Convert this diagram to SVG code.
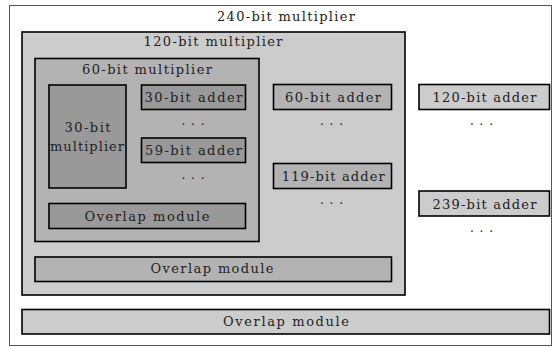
<svg xmlns="http://www.w3.org/2000/svg" width="553" height="347" viewBox="0 0 553 347">
<style>
text{font-family:"DejaVu Serif","Liberation Serif",serif;font-size:13px;fill:#222;text-anchor:middle}
.b{stroke:#000;stroke-width:1.6}
.l1{fill:#cccccc}
.l2{fill:#b3b3b3}
.l3{fill:#999999}
.dots{font-size:12px;letter-spacing:1px}
</style>
<rect x="0" y="0" width="553" height="347" fill="#fff"/>
<g id="m240">
<rect x="9.5" y="5.5" width="542" height="340" fill="#fff" stroke="#555" stroke-width="1"/>
<text x="286" y="21" textLength="138">240-bit multiplier</text>
</g>
<g id="m120">
<rect class="b l1" x="22" y="32" width="383" height="263"/>
<text x="213" y="46" textLength="139">120-bit multiplier</text>
</g>
<g id="m60">
<rect class="b l2" x="35" y="58.5" width="224" height="183"/>
<text x="147" y="74" textLength="130">60-bit multiplier</text>
</g>
<g id="m30">
<rect class="b l3" x="49" y="85" width="77" height="103"/>
<text x="87.5" y="132" textLength="46">30-bit</text>
<text x="87" y="151" textLength="74">multiplier</text>
</g>
<g id="a30">
<rect class="b l3" x="141.5" y="85" width="104" height="24.5"/>
<text x="193.5" y="102" textLength="98">30-bit adder</text>
</g>
<g id="a59">
<rect class="b l3" x="141.5" y="138" width="104" height="24.5"/>
<text x="193.5" y="155" textLength="97">59-bit adder</text>
</g>
<g id="ov60">
<rect class="b l3" x="49" y="203.5" width="196.5" height="25"/>
<text x="147" y="220.5" textLength="125">Overlap module</text>
</g>
<g id="a60">
<rect class="b l2" x="273.5" y="84.5" width="118" height="25"/>
<text x="333" y="102" textLength="96">60-bit adder</text>
</g>
<g id="a119">
<rect class="b l2" x="273.5" y="163.5" width="118" height="25"/>
<text x="333.3" y="181" textLength="103">119-bit adder</text>
</g>
<g id="ov120">
<rect class="b l2" x="35" y="257" width="356.5" height="24.5"/>
<text x="212" y="272.5" textLength="123">Overlap module</text>
</g>
<g id="a120">
<rect class="b l1" x="419" y="84.5" width="130.5" height="25"/>
<text x="484.5" y="102" textLength="104">120-bit adder</text>
</g>
<g id="a239">
<rect class="b l1" x="419" y="191" width="130.5" height="25"/>
<text x="484.5" y="208.5" textLength="104">239-bit adder</text>
</g>
<g id="ov240">
<rect class="b l1" x="22" y="309.5" width="527.5" height="24.5"/>
<text x="286" y="325.5" textLength="126">Overlap module</text>
</g>
<g id="ellipses">
<text class="dots" x="193.5" y="125">. . .</text>
<text class="dots" x="193.5" y="178.5">. . .</text>
<text class="dots" x="332" y="125">. . .</text>
<text class="dots" x="332" y="204">. . .</text>
<text class="dots" x="482" y="125">. . .</text>
<text class="dots" x="482" y="232">. . .</text>
</g>
<g id="connectors"></g>
</svg>
